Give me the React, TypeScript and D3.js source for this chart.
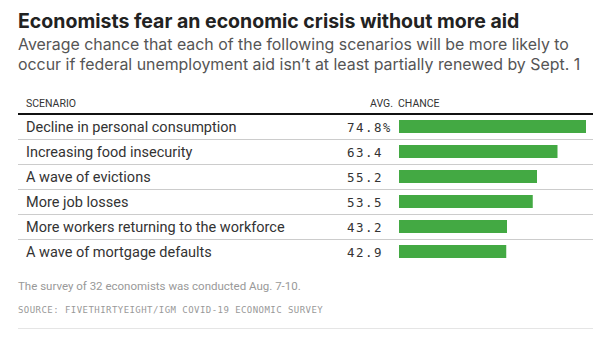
import React from "react";
import * as d3 from "d3";

const scenarios = [
  "Decline in personal consumption",
  "Increasing food insecurity",
  "A wave of evictions",
  "More job losses",
  "More workers returning to the workforce",
  "A wave of mortgage defaults",
];
const chances = [74.8, 63.4, 55.2, 53.5, 43.2, 42.9];

const W = 606;
const H = 337;

export default function App() {
  const left = 18;
  const right = 593;
  const headerLineY = 114;
  const rowH = 25;
  const x = d3.scaleLinear().domain([0, 75]).range([399, 586.5]);
  const y = d3
    .scaleBand<number>()
    .domain(d3.range(scenarios.length))
    .range([headerLineY, headerLineY + rowH * scenarios.length])
    .paddingInner(0)
    .paddingOuter(0);
  const barH = 13;

  return (
    <svg
      width={W}
      height={H}
      style={{ position: "absolute", left: 0, top: 0, background: "#fff" }}
    >
      <text x={left} y={27.5} fontFamily="Inter, sans-serif" fontWeight={700} fontSize={19.5} fill="#222">
        Economists fear an economic crisis without more aid
      </text>
      <text x={left} y={50.3} fontFamily="Inter, sans-serif" fontSize={15.9} fill="#555">
        Average chance that each of the following scenarios will be more likely to
      </text>
      <text x={left} y={69.8} fontFamily="Inter, sans-serif" fontSize={15.9} fill="#555">
        occur if federal unemployment aid isn’t at least partially renewed by Sept. 1
      </text>

      <text x={26} y={107} fontFamily="Roboto, sans-serif" fontSize={10.5} fill="#333">
        SCENARIO
      </text>
      <text x={393} y={107} textAnchor="end" fontFamily="Roboto, sans-serif" fontSize={10.5} fill="#333">
        AVG.
      </text>
      <text x={398} y={107} fontFamily="Roboto, sans-serif" fontSize={10.5} fill="#333">
        CHANCE
      </text>
      <line x1={left} x2={right} y1={headerLineY} y2={headerLineY} stroke="#111" strokeWidth={2} />

      {scenarios.map((s, i) => {
        const y0 = y(i)!;
        const v = chances[i];
        return (
          <g key={s}>
            <text x={26} y={y0 + 18} fontFamily="Roboto, sans-serif" fontSize={14.5} fill="#333">
              {s}
            </text>
            <text
              x={383}
              y={y0 + 17.5}
              textAnchor="end"
              fontFamily="'DejaVu Sans Mono', monospace"
              fontSize={12.5}
              letterSpacing={1.5}
              fill="#333"
            >
              {d3.format(".1f")(v)}
            </text>
            {i === 0 && (
              <text x={383} y={y0 + 17.5} fontFamily="'DejaVu Sans Mono', monospace" fontSize={12} fill="#333">
                %
              </text>
            )}
            <rect x={x(0)} y={y0 + (rowH - barH) / 2} width={x(v) - x(0)} height={barH} fill="#43a943" />
            {i < scenarios.length - 1 && (
              <line x1={left} x2={right} y1={y0 + rowH + 0.5} y2={y0 + rowH + 0.5} stroke="#ccc" strokeWidth={1} />
            )}
          </g>
        );
      })}

      <text x={left} y={290} fontFamily="Roboto, sans-serif" fontSize={11.5} fill="#999">
        The survey of 32 economists was conducted Aug. 7-10.
      </text>
      <text x={left} y={313} fontFamily="'DejaVu Sans Mono', monospace" fontSize={9} letterSpacing={0.45} fill="#999">
        SOURCE: FIVETHIRTYEIGHT/IGM COVID-19 ECONOMIC SURVEY
      </text>
      <line x1={left} x2={right} y1={328.5} y2={328.5} stroke="#e5e5e5" strokeWidth={1} />
    </svg>
  );
}
